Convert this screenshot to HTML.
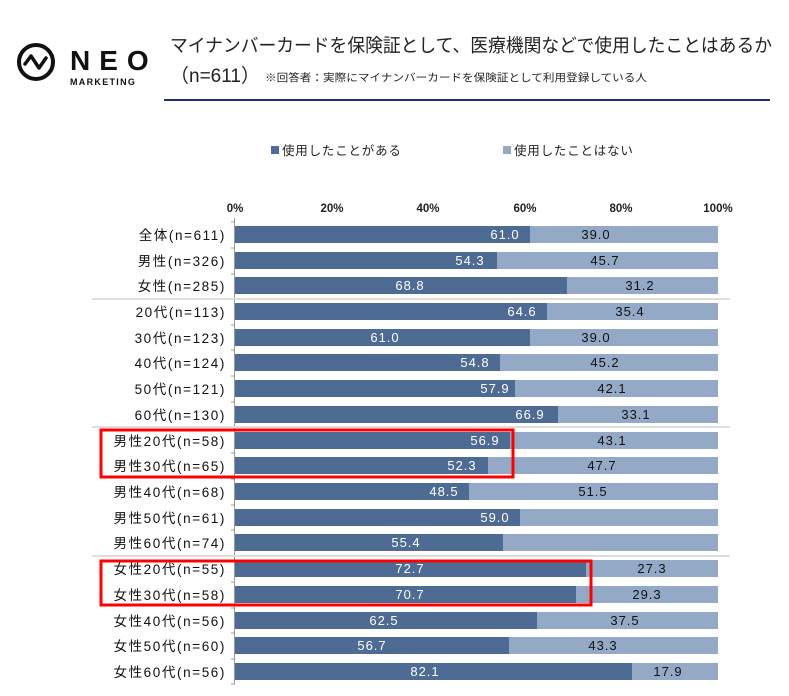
<!DOCTYPE html>
<html><head><meta charset="utf-8"><style>
body{margin:0;background:#fff;}
svg{display:block;font-family:"Liberation Sans","Noto Sans CJK JP",sans-serif;}
</style></head><body>
<svg width="789" height="696" viewBox="0 0 789 696" xmlns="http://www.w3.org/2000/svg">
<!-- logo -->
<circle cx="36" cy="62" r="17" fill="none" stroke="#111" stroke-width="4"/>
<polyline points="25,64 31,56 39,68 46,58" fill="none" stroke="#111" stroke-width="3.5" stroke-linejoin="round" stroke-linecap="round"/>
<text x="70" y="70" font-size="28" font-weight="bold" fill="#111" letter-spacing="9">NEO</text>
<text x="70" y="85" font-size="9" font-weight="bold" fill="#111" letter-spacing="1.3">MARKETING</text>
<text x="170" y="52" font-size="18.5" fill="#222" textLength="602" lengthAdjust="spacingAndGlyphs">マイナンバーカードを保険証として、医療機関などで使用したことはあるか</text>
<text x="170" y="82" font-size="19" fill="#222" textLength="90" lengthAdjust="spacing">（n=611）</text>
<text x="265" y="81" font-size="10.5" fill="#222" textLength="382" lengthAdjust="spacingAndGlyphs">※回答者：実際にマイナンバーカードを保険証として利用登録している人</text>
<rect x="164" y="99" width="606" height="2" fill="#1f2f6e"/>
<!-- legend -->
<rect x="271" y="146" width="8" height="8" fill="#4e6b93"/>
<text x="282" y="155" font-size="12.5" fill="#222" letter-spacing="0.8">使用したことがある</text>
<rect x="503" y="146" width="8" height="8" fill="#94a9c6"/>
<text x="514" y="155" font-size="12.5" fill="#222" letter-spacing="0.8">使用したことはない</text>
<!-- axis labels -->
<g font-size="11.5" font-weight="bold" fill="#222" text-anchor="middle">
<text x="235" y="212">0%</text><text x="332" y="212">20%</text><text x="428" y="212">40%</text><text x="525" y="212">60%</text><text x="621" y="212">80%</text><text x="718" y="212">100%</text>
</g>
<g stroke="#999" stroke-width="1">
<line x1="234.5" y1="218" x2="234.5" y2="684"/>
<line x1="231" y1="222" x2="235" y2="222"/>
<line x1="231" y1="248" x2="235" y2="248"/>
<line x1="231" y1="274" x2="235" y2="274"/>
<line x1="231" y1="325" x2="235" y2="325"/>
<line x1="231" y1="350" x2="235" y2="350"/>
<line x1="231" y1="376" x2="235" y2="376"/>
<line x1="231" y1="402" x2="235" y2="402"/>
<line x1="231" y1="453" x2="235" y2="453"/>
<line x1="231" y1="479" x2="235" y2="479"/>
<line x1="231" y1="505" x2="235" y2="505"/>
<line x1="231" y1="530" x2="235" y2="530"/>
<line x1="231" y1="582" x2="235" y2="582"/>
<line x1="231" y1="608" x2="235" y2="608"/>
<line x1="231" y1="633" x2="235" y2="633"/>
<line x1="231" y1="659" x2="235" y2="659"/>
<line x1="231" y1="684" x2="235" y2="684"/>
</g>
<g stroke="#ddd" stroke-width="2">
<line x1="92" y1="299" x2="730" y2="299"/>
<line x1="92" y1="427" x2="730" y2="427"/>
<line x1="92" y1="556" x2="730" y2="556"/>
</g>
<g fill="#94a9c6">
<rect x="235" y="226" width="483" height="17"/><rect x="235" y="252" width="483" height="17"/><rect x="235" y="277" width="483" height="17"/>
<rect x="235" y="303" width="483" height="17"/><rect x="235" y="329" width="483" height="17"/><rect x="235" y="354" width="483" height="17"/>
<rect x="235" y="380" width="483" height="17"/><rect x="235" y="406" width="483" height="17"/><rect x="235" y="432" width="483" height="17"/>
<rect x="235" y="457" width="483" height="17"/><rect x="235" y="483" width="483" height="17"/><rect x="235" y="509" width="483" height="17"/>
<rect x="235" y="534" width="483" height="17"/><rect x="235" y="560" width="483" height="17"/><rect x="235" y="586" width="483" height="17"/>
<rect x="235" y="612" width="483" height="17"/><rect x="235" y="637" width="483" height="17"/><rect x="235" y="663" width="483" height="17"/>
</g>
<g fill="#4e6b93">
<rect x="235" y="226" width="295" height="17"/><rect x="235" y="252" width="262" height="17"/><rect x="235" y="277" width="332" height="17"/>
<rect x="235" y="303" width="312" height="17"/><rect x="235" y="329" width="295" height="17"/><rect x="235" y="354" width="265" height="17"/>
<rect x="235" y="380" width="280" height="17"/><rect x="235" y="406" width="323" height="17"/><rect x="235" y="432" width="275" height="17"/>
<rect x="235" y="457" width="253" height="17"/><rect x="235" y="483" width="234" height="17"/><rect x="235" y="509" width="285" height="17"/>
<rect x="235" y="534" width="268" height="17"/><rect x="235" y="560" width="351" height="17"/><rect x="235" y="586" width="341" height="17"/>
<rect x="235" y="612" width="302" height="17"/><rect x="235" y="637" width="274" height="17"/><rect x="235" y="663" width="397" height="17"/>
</g>
<g font-size="13" fill="#fff" text-anchor="middle" letter-spacing="1">
<text x="505" y="239">61.0</text><text x="470" y="265">54.3</text><text x="410" y="290">68.8</text>
<text x="522" y="316">64.6</text><text x="385" y="342">61.0</text><text x="475" y="367">54.8</text>
<text x="495" y="393">57.9</text><text x="530" y="419">66.9</text><text x="485" y="445">56.9</text>
<text x="462" y="470">52.3</text><text x="444" y="496">48.5</text><text x="495" y="522">59.0</text>
<text x="406" y="547">55.4</text><text x="410" y="573">72.7</text><text x="410" y="599">70.7</text>
<text x="384" y="625">62.5</text><text x="372" y="650">56.7</text><text x="425" y="676">82.1</text>
</g>
<g font-size="13" fill="#111" text-anchor="middle" letter-spacing="1">
<text x="596" y="239">39.0</text><text x="605" y="265">45.7</text><text x="640" y="290">31.2</text>
<text x="630" y="316">35.4</text><text x="596" y="342">39.0</text><text x="605" y="367">45.2</text>
<text x="612" y="393">42.1</text><text x="636" y="419">33.1</text><text x="612" y="445">43.1</text>
<text x="602" y="470">47.7</text><text x="593" y="496">51.5</text>
<text x="652" y="573">27.3</text><text x="647" y="599">29.3</text>
<text x="625" y="625">37.5</text><text x="603" y="650">43.3</text><text x="668" y="676">17.9</text>
</g>
<g font-size="13.5" fill="#111" text-anchor="end" letter-spacing="1.6">
<text x="226" y="240">全体(n=611)</text><text x="226" y="266">男性(n=326)</text><text x="226" y="291">女性(n=285)</text>
<text x="226" y="317">20代(n=113)</text><text x="226" y="343">30代(n=123)</text><text x="226" y="368">40代(n=124)</text>
<text x="226" y="394">50代(n=121)</text><text x="226" y="420">60代(n=130)</text><text x="226" y="446">男性20代(n=58)</text>
<text x="226" y="471">男性30代(n=65)</text><text x="226" y="497">男性40代(n=68)</text><text x="226" y="523">男性50代(n=61)</text>
<text x="226" y="548">男性60代(n=74)</text><text x="226" y="574">女性20代(n=55)</text><text x="226" y="600">女性30代(n=58)</text>
<text x="226" y="626">女性40代(n=56)</text><text x="226" y="651">女性50代(n=60)</text><text x="226" y="677">女性60代(n=56)</text>
</g>
<g fill="none" stroke="#f00" stroke-width="3">
<rect x="101" y="430" width="412" height="47"/>
<rect x="101" y="561" width="490" height="44"/>
</g>
</svg>
</body></html>
